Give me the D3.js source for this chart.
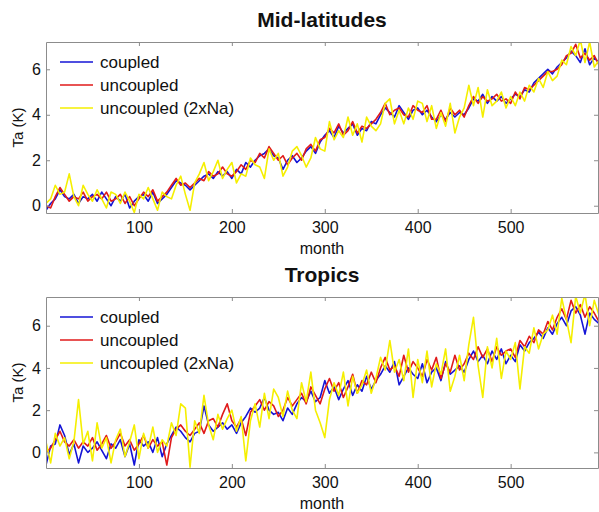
<!DOCTYPE html>
<meta charset="utf-8">
<style>
body { margin: 0; background: #fff; }
text { font-family: "Liberation Sans", Arial, sans-serif; fill: #111; }
.axis path, .axis line { stroke: #8c8c8c; }
.axis text { font-size: 16px; fill: #111; font-family: "Liberation Sans", Arial, sans-serif; }
.series { fill: none; stroke-width: 1.6; stroke-linejoin: round; }
.title { font-size: 21px; font-weight: bold; }
.legend text { font-size: 17px; }
</style>
<svg width="599" height="512"></svg>
<script src="https://d3js.org/d3.v7.min.js"></script>
<script>

// months sampled every 5
var months = d3.range(0, 600, 5);
var seriesNames = ["coupled", "uncoupled", "uncoupled (2xNa)"];
var seriesColors = ["#1414d6", "#e01a1a", "#f5ef00"];
var xTicks = [100, 200, 300, 400, 500];
var yTicks = [0, 2, 4, 6];

var midCoupled = [
  -0.2, 0.1, 0.3, 0.7, 0.4, 0.3, 0.5, 0.1, 0.4, 0.3,
  0.5, 0.2, 0.6, 0.3, 0.0, 0.4, 0.2, 0.5, -0.1, 0.2,
  0.4, 0.5, 0.2, 0.6, 0.1, 0.3, 0.5, 0.8, 1.1, 1.0,
  0.9, 0.7, 0.9, 1.1, 1.3, 1.4, 1.2, 1.5, 1.3, 1.5,
  1.2, 1.6, 1.4, 1.9, 1.7, 2.0, 2.2, 2.3, 2.5, 2.2,
  2.1, 1.6, 2.0, 2.2, 1.9, 2.1, 2.4, 2.6, 2.3, 2.8,
  3.1, 3.3, 3.0, 3.5, 3.2, 3.4, 3.6, 3.1, 3.4, 3.3,
  3.7, 3.6, 4.0, 4.3, 4.1, 3.9, 4.4, 4.1, 3.8, 4.2,
  4.3, 4.0, 4.2, 3.9, 3.7, 4.0, 3.8, 4.1, 3.9, 4.1,
  4.0, 4.3, 4.7, 4.6, 4.9, 4.5, 4.8, 4.6, 4.8, 4.5,
  4.7, 4.9, 4.8, 5.1, 5.0, 5.4, 5.6, 5.8, 6.0, 5.8,
  6.1, 6.3, 6.5, 6.8, 6.6, 6.3, 6.9, 6.2, 6.5, 6.3
];
var midUncoupled = [
  0.0, -0.1, 0.4, 0.8, 0.5, 0.2, 0.4, 0.3, 0.6, 0.2,
  0.4, 0.5, 0.3, 0.6, 0.2, 0.3, 0.5, 0.1, 0.4, 0.0,
  0.3, 0.6, 0.4, 0.7, 0.2, 0.4, 0.6, 0.9, 1.2, 0.9,
  1.0, 0.8, 1.0, 1.2, 1.1, 1.5, 1.3, 1.4, 1.7, 1.4,
  1.3, 1.5, 1.8, 1.6, 2.0, 1.9, 2.3, 2.1, 2.6, 2.3,
  2.0, 2.2, 1.8, 2.1, 2.3, 2.0, 2.5, 2.7, 2.4, 2.9,
  3.0, 3.4, 3.2, 3.6, 3.1, 3.3, 3.7, 3.2, 3.5, 3.4,
  3.6, 3.8, 4.1, 4.5, 4.0, 4.2, 4.3, 4.0, 3.9, 4.4,
  4.2, 4.1, 4.4, 3.8, 3.8, 4.2, 3.7, 4.3, 4.0, 4.2,
  3.9, 4.4, 4.8, 4.5, 4.8, 4.6, 4.7, 4.9, 4.6, 4.7,
  4.5, 5.0, 4.7, 5.2, 5.1, 5.3, 5.5, 5.7, 5.9, 5.9,
  6.0, 6.2, 6.6, 6.7, 7.1, 6.5, 6.7, 6.4, 6.6, 6.2
];
var mid2xNa = [
  0.1, 0.3, 0.9, 0.5, 0.6, 1.4, 0.4, 0.0, 0.9, 0.5,
  0.2, 0.7, 0.3, -0.1, 0.6, 0.5, 0.1, 0.6, 0.2, -0.3,
  0.5, 0.3, 0.8, 0.3, -0.2, 0.6, 0.4, 0.3, 0.9, 1.3,
  0.5, -0.2, 1.0, 1.4, 1.9, 1.1, 1.5, 2.0, 1.2, 1.6,
  1.9, 1.0, 1.4, 1.3, 2.1, 1.8, 1.7, 1.2, 2.5, 2.0,
  2.3, 1.3, 1.7, 2.4, 2.6, 2.2, 1.7, 2.1, 3.0, 2.5,
  2.4, 3.7, 2.9, 3.3, 3.0, 3.9, 3.1, 3.6, 2.8, 3.9,
  3.5, 3.3, 3.6, 4.5, 4.7, 3.6, 4.2, 3.6, 4.3, 3.8,
  4.6, 4.5, 3.7, 4.4, 3.4, 4.1, 3.5, 4.5, 3.2, 3.9,
  4.3, 5.3, 4.4, 5.2, 3.9, 5.1, 4.4, 4.6, 5.0, 4.3,
  4.8, 4.4, 5.0, 4.6, 5.3, 5.0, 5.6, 5.2, 5.9, 5.5,
  5.7, 6.4, 6.2, 7.0, 6.6, 7.3, 6.3, 7.2, 6.1, 6.4
];

var tropCoupled = [
  -0.6, 0.3, 0.4, 1.3, 0.8, -0.1, 0.4, -0.5, 0.3, 0.0,
  0.2, 0.5, 0.1, -0.3, 0.4, 0.2, 0.6, -0.2, 0.4, -0.6,
  0.6, 0.3, 0.5, 0.0, 0.7, -0.2, 0.4, 0.8, 1.2, 1.0,
  0.7, 0.5, 0.9, 1.0, 2.2, 1.3, 1.0, 1.2, 1.4, 1.1,
  1.3, 0.9, 1.4, 1.7, 2.1, 1.9, 2.1, 2.6, 2.0, 1.8,
  1.9, 1.5, 2.1, 1.8, 2.3, 2.6, 2.4, 2.9, 2.4, 2.6,
  3.4, 2.8, 3.1, 2.5, 3.0, 3.4, 2.7, 3.2, 2.9, 3.6,
  3.0, 3.4, 3.7, 4.1, 3.8, 4.3, 3.2, 3.6, 4.0, 3.7,
  3.5, 4.2, 3.3, 3.8, 4.0, 3.4, 4.3, 3.7, 3.9, 4.1,
  3.8, 4.4, 4.8, 4.3, 4.6, 4.2, 4.8, 4.4, 4.9, 4.2,
  4.6, 4.3, 5.1, 4.8, 5.2, 5.4, 5.7, 5.4, 5.9, 5.6,
  6.1, 6.4, 6.0, 6.7, 6.9, 6.5, 5.6, 6.6, 6.3, 6.1
];
var tropUncoupled = [
  0.0, 0.2, 0.6, 1.0, 0.5, 0.3, 0.6, 0.2, 0.5, 0.3,
  0.7, 0.1, 0.4, 0.8, 0.2, 0.5, 0.9, 0.3, 0.6, 0.1,
  0.4, 0.8, 0.2, 0.6, 0.3, 0.5, -0.6, 0.7, 1.1, 1.3,
  1.0, 0.8, 1.1, 1.4, 0.9, 1.5, 1.6, 1.2, 1.8, 2.3,
  1.5, 1.2, 1.6, 0.8, 1.9, 2.2, 2.5, 2.0, 2.4, 2.2,
  1.7, 2.0, 2.6, 2.2, 2.5, 2.8, 2.3, 3.1, 2.7, 2.3,
  3.0, 3.5, 2.9, 3.3, 2.6, 3.1, 3.7, 2.8, 3.4, 3.2,
  3.8, 3.3, 4.0, 4.5, 3.9, 4.1, 3.6, 4.6, 3.8, 4.3,
  4.0, 3.6, 4.4, 3.9, 4.5, 3.5, 4.2, 3.8, 4.6, 3.9,
  4.2, 4.7, 4.4, 5.0, 4.5, 4.9, 4.3, 5.0, 4.6, 4.8,
  4.9, 4.5, 5.3, 5.0, 5.5, 5.2, 5.8, 5.6, 6.2, 5.8,
  6.4, 6.8, 6.3, 7.2, 6.6, 7.0, 6.4, 6.9, 6.6, 6.2
];
var trop2xNa = [
  0.5, -0.5, 0.9, 0.3, 0.7, -0.3, 0.5, 2.5, 0.4, 1.0,
  -0.4, 1.4, 0.2, 0.7, -0.5, 0.6, 1.1, -0.2, 0.5, 1.3,
  -0.3, 0.9, 0.2, 1.2, 0.0, 0.6, 0.3, 1.4, 0.8, 2.3,
  2.1, -0.7, 1.5, 0.9, 2.7, 1.3, 0.6, 1.8, 1.1, 1.6,
  2.0, 1.0, 1.7, -0.4, 1.5, 2.3, 1.2, 2.8, 1.6, 3.0,
  2.6, 1.7, 2.9, 2.0, 1.6, 3.3, 2.4, 3.8, 2.0, 1.4,
  0.7, 2.5, 3.3, 2.7, 3.8, 2.2, 3.6, 2.8, 3.2, 3.9,
  2.8, 3.5, 4.5, 3.9, 5.3, 3.8, 4.4, 3.4, 4.9, 2.6,
  4.4, 3.3, 4.8, 3.1, 4.2, 3.7, 4.9, 2.9, 3.6, 4.6,
  3.4, 5.1, 6.4, 4.1, 2.6, 5.0, 4.0, 5.4, 3.5, 4.8,
  4.4, 5.2, 3.0, 5.0, 4.7, 5.9, 4.9, 5.6, 5.8, 6.5,
  5.6, 7.3, 6.3, 5.2, 7.4, 6.6, 7.5, 6.0, 7.2, 6.5
];

var left = 46, right = 598;
var panels = [
  { title: "Mid-latitudes", top: 42, bottom: 213, yDomain: [-0.32, 7.2],
    series: [midCoupled, midUncoupled, mid2xNa] },
  { title: "Tropics", top: 297, bottom: 468, yDomain: [-0.74, 7.36],
    series: [tropCoupled, tropUncoupled, trop2xNa] }
];

var svg = d3.select("svg");
var x = d3.scaleLinear().domain([0, 594]).range([left, right]);

panels.forEach(function(p, pi) {
  var y = d3.scaleLinear().domain(p.yDomain).range([p.bottom, p.top]);
  var g = svg.append("g");

  g.append("clipPath").attr("id", "clip" + pi)
    .append("rect")
    .attr("x", left).attr("y", p.top)
    .attr("width", right - left).attr("height", p.bottom - p.top);

  // lines
  var line = d3.line()
    .x(function(d, i) { return x(months[i]); })
    .y(function(d) { return y(d); });

  g.append("g").attr("clip-path", "url(#clip" + pi + ")")
    .selectAll("path")
    .data(p.series)
    .enter().append("path")
      .attr("class", "series")
      .attr("stroke", function(d, i) { return seriesColors[i]; })
      .attr("d", line);

  // axes, MATLAB style with inward ticks on every side
  g.append("g").attr("class", "axis")
    .attr("transform", "translate(0," + p.bottom + ")")
    .call(d3.axisBottom(x).tickValues(xTicks).tickSizeInner(-4).tickSizeOuter(0).tickPadding(9));
  g.append("g").attr("class", "axis")
    .attr("transform", "translate(0," + p.top + ")")
    .call(d3.axisTop(x).tickValues(xTicks).tickSizeInner(-4).tickSizeOuter(0).tickFormat(""));
  g.append("g").attr("class", "axis")
    .attr("transform", "translate(" + left + ",0)")
    .call(d3.axisLeft(y).tickValues(yTicks).tickSizeInner(-4).tickSizeOuter(0).tickPadding(5));
  g.append("g").attr("class", "axis")
    .attr("transform", "translate(" + right + ",0)")
    .call(d3.axisRight(y).tickValues(yTicks).tickSizeInner(-4).tickSizeOuter(0).tickFormat(""));

  g.append("text").attr("class", "title")
    .attr("x", (left + right) / 2).attr("y", p.top - 15)
    .attr("text-anchor", "middle")
    .text(p.title);

  g.append("text")
    .attr("x", (left + right) / 2).attr("y", p.bottom + 41)
    .attr("text-anchor", "middle")
    .style("font-size", "16px")
    .text("month");

  g.append("text")
    .attr("transform", "translate(18," + (p.top + p.bottom) / 2 + ") rotate(-90)")
    .attr("text-anchor", "middle")
    .attr("dy", "0.35em")
    .style("font-size", "15px")
    .text("Ta (K)");

  // legend
  var lg = g.append("g").attr("class", "legend")
    .selectAll("g")
    .data(seriesNames)
    .enter().append("g")
      .attr("transform", function(d, i) { return "translate(60," + (p.top + 20 + i * 23) + ")"; });
  lg.append("line")
    .attr("x1", 0).attr("x2", 33)
    .attr("stroke", function(d, i) { return seriesColors[i]; })
    .attr("stroke-width", 1.6);
  lg.append("text")
    .attr("x", 40).attr("dy", "0.35em")
    .text(function(d) { return d; });
});

</script>
